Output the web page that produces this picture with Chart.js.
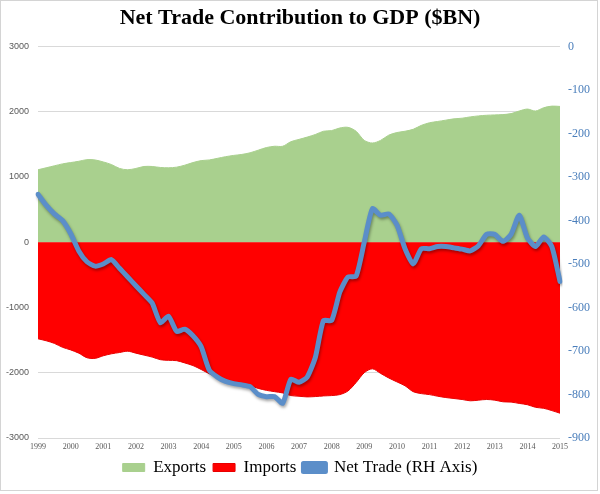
<!DOCTYPE html>
<html lang="en">
<head>
  <meta charset="UTF-8">
  <title>Net Trade Contribution to GDP</title>
  <script src="https://cdn.jsdelivr.net/npm/chart.js"></script>
  <style>
    body {
      margin: 0;
      background: #ffffff;
    }
    .wrap {
      width: 600px;
      height: 494px;
    }
  </style>
</head>
<body>
  <div class="wrap">
    <canvas id="tradeChart" width="600" height="494"></canvas>
  </div>

  <script>
    // quarterly points, 1999 Q1 .. 2015 Q1
    const years = ['1999', '2000', '2001', '2002', '2003', '2004', '2005', '2006', '2007',
      '2008', '2009', '2010', '2011', '2012', '2013', '2014', '2015'];
    const quarters = [];
    years.forEach((y, i) => {
      const n = (i === years.length - 1) ? 1 : 4;
      for (let q = 1; q <= n; q++) quarters.push(y + ' Q' + q);
    });

    const exportsBn = [
      1110, 1140, 1170, 1200, 1220, 1240, 1265, 1260, 1230, 1190, 1130, 1110, 1130,
      1160, 1160, 1145, 1140, 1150, 1180, 1220, 1250, 1260, 1285, 1310, 1330, 1345,
      1370, 1410, 1450, 1470, 1470, 1540, 1575, 1610, 1650, 1700, 1710, 1750, 1760,
      1700, 1560, 1520, 1560, 1640, 1680, 1700, 1730, 1790, 1830, 1850, 1870, 1890,
      1900, 1920, 1935, 1945, 1950, 1955, 1970, 2010, 2040, 2010, 2060, 2085, 2080
    ];
    const importsBn = [
      -1480, -1510, -1550, -1610, -1650, -1700, -1770, -1780, -1740, -1710, -1690, -1670, -1700,
      -1730, -1760, -1800, -1810, -1815, -1850, -1890, -1950, -2015, -2070, -2110, -2150, -2170,
      -2200, -2240, -2270, -2290, -2310, -2350, -2360, -2370, -2365, -2355, -2350, -2335, -2280,
      -2150, -2000, -1940, -2010, -2080, -2140, -2200, -2290, -2320, -2335, -2360, -2380, -2395,
      -2410, -2430, -2420, -2410, -2420, -2445, -2450, -2470, -2490, -2530, -2545, -2580, -2620
    ];
    const netTradeBn = [
      -340, -365, -385, -400, -430, -470, -495, -505, -500, -490, -510, -530, -550,
      -570, -590, -635, -620, -655, -650, -665, -690, -744, -760, -770, -775, -778,
      -782, -800, -805, -805, -820, -765, -772, -760, -715, -630, -630, -565, -530,
      -528, -450, -373, -388, -385, -410, -465, -500, -465, -465, -460, -460, -463,
      -466, -470, -458, -432, -432, -448, -432, -388, -440, -460, -438, -460, -540
    ];

    const leftTicks = [-3000, -2000, -1000, 0, 1000, 2000, 3000];
    const rightTicks = [-900, -800, -700, -600, -500, -400, -300, -200, -100, 0];

    // thin grey frame round the picture + shadow under the blue line
    const framePlugin = {
      id: 'frame',
      afterDraw(chart) {
        const c = chart.ctx;
        c.save();
        c.strokeStyle = '#d4d4d4';
        c.lineWidth = 1;
        c.strokeRect(0.5, 0.5, chart.width - 3, chart.height - 4);
        c.restore();
      },
      beforeDatasetDraw(chart, args) {
        if (args.index === 2) {
          const c = chart.ctx;
          c.save();
          c.shadowColor = 'rgba(0,0,0,0.35)';
          c.shadowBlur = 3;
          c.shadowOffsetX = 1;
          c.shadowOffsetY = 2;
        }
      },
      afterDatasetDraw(chart, args) {
        if (args.index === 2) chart.ctx.restore();
      }
    };

    const ctx = document.getElementById('tradeChart').getContext('2d');
    new Chart(ctx, {
      type: 'line',
      data: {
        labels: quarters,
        datasets: [
          {
            label: 'Exports',
            data: exportsBn,
            yAxisID: 'y',
            backgroundColor: '#a9d08e',
            borderColor: '#a9d08e',
            borderWidth: 1,
            fill: 'origin',
            pointRadius: 0,
            tension: 0.3,
            order: 3
          },
          {
            label: 'Imports',
            data: importsBn,
            yAxisID: 'y',
            backgroundColor: '#ff0000',
            borderColor: '#e80000',
            borderWidth: 1,
            fill: 'origin',
            pointRadius: 0,
            tension: 0.3,
            order: 2
          },
          {
            label: 'Net Trade (RH Axis)',
            data: netTradeBn,
            yAxisID: 'y1',
            backgroundColor: '#5b8ec9',
            borderColor: '#5b8ec9',
            borderWidth: 5,
            fill: false,
            pointRadius: 0,
            tension: 0.2,
            borderJoinStyle: 'round',
            borderCapStyle: 'round',
            order: 1
          }
        ]
      },
      options: {
        responsive: false,
        animation: false,
        layout: {
          padding: { left: 0, right: 0, top: 0, bottom: 8 }
        },
        plugins: {
          title: {
            display: true,
            text: 'Net Trade Contribution to GDP ($BN)',
            color: '#000000',
            font: { family: '"Liberation Serif", "Times New Roman", serif', size: 22, weight: 'bold' },
            padding: { top: 5, bottom: 15 }
          },
          legend: {
            position: 'bottom',
            labels: {
              color: '#000000',
              font: { family: '"Liberation Serif", "Times New Roman", serif', size: 17 },
              boxWidth: 22,
              boxHeight: 8,
              padding: 7,
              sort: (a, b) => a.datasetIndex - b.datasetIndex
            }
          },
          tooltip: { enabled: false }
        },
        scales: {
          x: {
            grid: { display: false, drawTicks: false },
            border: { display: false },
            afterFit: (scale) => { scale.height = 14; },
            ticks: {
              autoSkip: false,
              maxRotation: 0,
              color: '#595959',
              font: { family: '"Liberation Serif", serif', size: 8 },
              padding: 4,
              callback: function (val, i) {
                return i % 4 === 0 ? years[i / 4] : null;
              }
            }
          },
          y: {
            position: 'left',
            min: leftTicks[0],
            max: leftTicks[leftTicks.length - 1],
            afterBuildTicks: (scale) => {
              scale.ticks = leftTicks.map(v => ({ value: v }));
            },
            afterFit: (scale) => { scale.width = 38; },
            grid: { color: '#d9d9d9', drawTicks: false },
            border: { display: false },
            ticks: {
              color: '#595959',
              font: { family: '"Liberation Sans", Arial, sans-serif', size: 9 },
              padding: 9,
              callback: (v) => String(v)
            }
          },
          y1: {
            position: 'right',
            min: rightTicks[0],
            max: rightTicks[rightTicks.length - 1],
            afterBuildTicks: (scale) => {
              scale.ticks = rightTicks.map(v => ({ value: v }));
            },
            afterFit: (scale) => { scale.width = 40; },
            grid: { display: false, drawTicks: false },
            border: { display: false },
            ticks: {
              color: '#4a7ebb',
              font: { family: '"Liberation Serif", serif', size: 12 },
              padding: 8,
              callback: (v) => String(v)
            }
          }
        }
      },
      plugins: [framePlugin]
    });
  </script>
</body>
</html>
